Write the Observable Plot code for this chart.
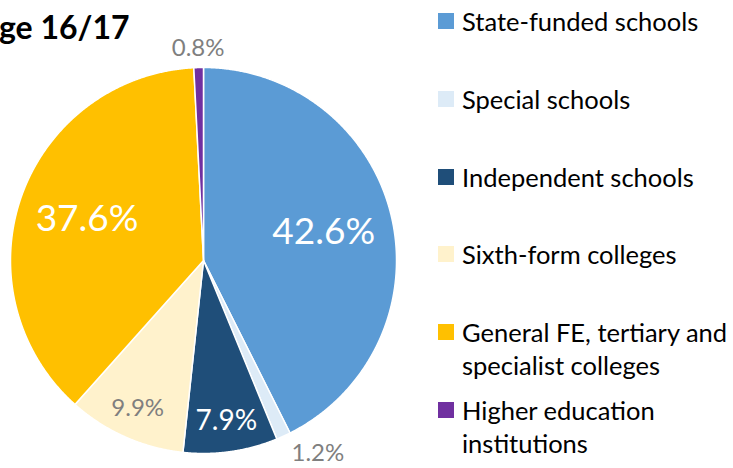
<!DOCTYPE html>
<html>
<head>
<meta charset="utf-8">
<script src="https://cdn.jsdelivr.net/npm/d3@7"></script>
<script src="https://cdn.jsdelivr.net/npm/@observablehq/plot@0.6"></script>
<style>
  html, body { margin: 0; padding: 0; background: #fff; overflow: hidden; }
  #wrap { position: relative; width: 733px; height: 468px; font-family: Lato, "Open Sans", sans-serif; }
  #wrap svg { position: absolute; left: 0; top: 0; }
  #title { position: absolute; left: -1px; top: 9px; font-size: 32px; font-weight: 700; color: #000; white-space: nowrap; line-height: 36px; }
  .item { position: absolute; left: 438px; width: 300px; display: flex; align-items: flex-start; }
  .sw { width: 16px; height: 16px; flex: none; margin-top: 8px; margin-right: 8px; }
  .lbl { font-size: 25.5px; line-height: 33px; color: #000; white-space: nowrap; }
</style>
</head>
<body>
<div id="wrap">
  <div id="title">ge 16/17</div>
</div>
<script>
const categories = ["State-funded schools", "Special schools", "Independent schools", "Sixth-form colleges", "General FE, tertiary and specialist colleges", "Higher education institutions"];
const values = [42.6, 1.2, 7.9, 9.9, 37.6, 0.8];
const colors = ["#5B9BD5", "#DDEBF7", "#1F4E79", "#FFF2CC", "#FFC000", "#7030A0"];
const legendLines = [["State-funded schools"], ["Special schools"], ["Independent schools"], ["Sixth-form colleges"], ["General FE, tertiary and", "specialist colleges"], ["Higher education", "institutions"]];

const data = categories.map((c, i) => ({category: c, value: values[i]}));
const arcs = d3.pie().sort(null).value(d => d.value)(data);

// polygon vertices for each slice, derived from the pie layout
const poly = [];
for (const a of arcs) {
  poly.push({category: a.data.category, x: 0, y: 0});
  const n = Math.max(2, Math.ceil((a.endAngle - a.startAngle) / 0.005));
  for (let k = 0; k <= n; k++) {
    const t = a.startAngle + (a.endAngle - a.startAngle) * k / n;
    poly.push({category: a.data.category, x: Math.sin(t), y: Math.cos(t)});
  }
}

const labelR = v => v >= 20 ? 0.64 : v >= 5 ? 0.84 : 1.10;
const labels = arcs.map((a, i) => {
  const m = (a.startAngle + a.endAngle) / 2;
  const r = labelR(a.value);
  const outside = r > 1;
  const dark = ["#5B9BD5", "#1F4E79", "#FFC000"].includes(colors[i]) && !outside;
  const s = Math.sin(m);
  return {
    text: a.value.toFixed(1) + "%",
    x: r * s, y: r * Math.cos(m),
    white: dark,
    anchor: outside ? (s > 0.2 ? "start" : s < -0.2 ? "end" : "middle") : "middle",
    size: a.value >= 20 ? 37 : dark ? 28 : 24
  };
});

const chart = Plot.plot({
  width: 733,
  height: 468,
  margin: 0,
  x: {domain: [-1, 1], range: [10, 396], axis: null},
  y: {domain: [-1, 1], range: [453, 67], axis: null},
  color: {domain: categories, range: colors},
  style: {fontFamily: "Lato, 'Open Sans', sans-serif", background: "transparent"},
  marks: [
    Plot.line(poly, {x: "x", y: "y", z: "category", fill: "category", stroke: "white", strokeWidth: 1.5, curve: "linear-closed"}),
    ...labels.map(l => Plot.text([l], {x: "x", y: "y", text: "text", fill: l.white ? "white" : "#7F7F7F", fontSize: l.size, textAnchor: l.anchor}))
  ]
});
const wrap = document.getElementById("wrap");
wrap.insertBefore(chart, wrap.firstChild);

legendLines.forEach((lines, i) => {
  const it = document.createElement("div");
  it.className = "item";
  it.style.top = (5 + i * 77.8) + "px";
  const sw = document.createElement("div");
  sw.className = "sw";
  sw.style.background = colors[i];
  const lb = document.createElement("div");
  lb.className = "lbl";
  lb.innerHTML = lines.join("<br>");
  it.appendChild(sw); it.appendChild(lb);
  wrap.appendChild(it);
});
</script>
</body>
</html>
